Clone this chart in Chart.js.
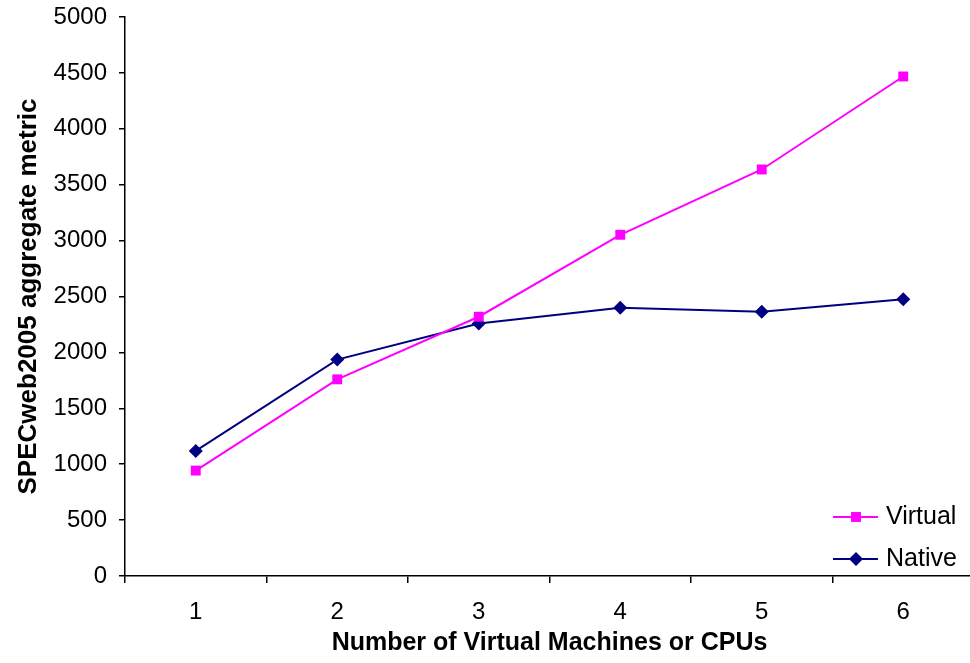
<!DOCTYPE html>
<html>
<head>
<meta charset="utf-8">
<script src="https://cdn.jsdelivr.net/npm/chart.js@4/dist/chart.umd.min.js"></script>
<style>
  html, body { margin: 0; padding: 0; background: #fff; overflow: hidden; }
  #wrap { width: 981px; height: 663px; position: relative; }
</style>
</head>
<body>
<div id="wrap"><canvas id="specChart"></canvas></div>
<script>
const categories = ['1', '2', '3', '4', '5', '6'];
const virtualValues = [943, 1759, 2319, 3052, 3636, 4468];
const nativeValues = [1119, 1936, 2259, 2400, 2364, 2475];

const fontFamily = '"Liberation Sans", Arial, sans-serif';

// legend drawn inside the plot, lower right, like the original
const insideLegend = {
    id: 'insideLegend',
    afterDraw(chart) {
        const ctx = chart.ctx;
        const area = chart.chartArea;
        ctx.save();
        chart.data.datasets.forEach(function (ds, i) {
            const y = area.bottom - 59 + i * 42;
            const x0 = area.right - 141;
            ctx.strokeStyle = ds.borderColor;
            ctx.lineWidth = 2;
            ctx.beginPath();
            ctx.moveTo(x0, y);
            ctx.lineTo(x0 + 45, y);
            ctx.stroke();
            ctx.fillStyle = ds.pointBackgroundColor;
            Chart.helpers.drawPoint(ctx, {
                pointStyle: ds.pointStyle,
                radius: ds.pointRadius,
                borderWidth: 0
            }, x0 + 23, y);
            ctx.fillStyle = '#000';
            ctx.font = '25px ' + fontFamily;
            ctx.textBaseline = 'middle';
            ctx.textAlign = 'left';
            ctx.fillText(ds.label, x0 + 53, y);
        });
        ctx.restore();
    }
};

document.addEventListener('DOMContentLoaded', function () {
    const ctx = document.getElementById('specChart').getContext('2d');
    const chart = new Chart(ctx, {
        type: 'line',
        data: {
            labels: categories,
            datasets: [{
                label: 'Virtual',
                data: virtualValues,
                borderColor: '#ff00ff',
                backgroundColor: '#ff00ff',
                pointBackgroundColor: '#ff00ff',
                pointBorderColor: '#ff00ff',
                pointStyle: 'rect',
                pointRadius: 7,
                pointBorderWidth: 0,
                borderWidth: 2,
                fill: false
            }, {
                label: 'Native',
                data: nativeValues,
                borderColor: '#000080',
                backgroundColor: '#000080',
                pointBackgroundColor: '#000080',
                pointBorderColor: '#000080',
                pointStyle: 'rectRot',
                pointRadius: 7,
                pointBorderWidth: 0,
                borderWidth: 2,
                fill: false
            }]
        },
        options: {
            responsive: true,
            maintainAspectRatio: false,
            animation: false,
            layout: { padding: { top: 17, right: 0, bottom: 0, left: 0 } },
            plugins: {
                legend: { display: false },
                tooltip: { enabled: false }
            },
            scales: {
                x: {
                    offset: true,
                    grid: {
                        offset: true,
                        drawOnChartArea: false,
                        drawTicks: true,
                        tickLength: 7,
                        color: '#000',
                        lineWidth: 1.5
                    },
                    border: { color: '#000', width: 1.5 },
                    ticks: {
                        color: '#000',
                        padding: 15,
                        font: { family: fontFamily, size: 24 }
                    },
                    title: {
                        display: true,
                        text: 'Number of Virtual Machines or CPUs',
                        color: '#000',
                        padding: { top: 0, bottom: 5 },
                        font: { family: fontFamily, size: 25, weight: 'bold' }
                    },
                    afterFit: function (scale) {
                        scale.height = 87;
                        scale.paddingLeft = 0;
                        scale.paddingRight = 0;
                    }
                },
                y: {
                    min: 0,
                    max: 5000,
                    ticks: {
                        stepSize: 500,
                        color: '#000',
                        padding: 12,
                        font: { family: fontFamily, size: 24 },
                        callback: function (value) { return String(value); }
                    },
                    grid: {
                        drawOnChartArea: false,
                        drawTicks: true,
                        tickLength: 6,
                        color: '#000',
                        lineWidth: 1.5
                    },
                    border: { color: '#000', width: 1.5 },
                    title: {
                        display: true,
                        text: 'SPECweb2005 aggregate metric',
                        color: '#000',
                        padding: { top: 13, bottom: 0 },
                        font: { family: fontFamily, size: 26, weight: 'bold' }
                    },
                    afterFit: function (scale) {
                        scale.width = 125;
                        scale.paddingTop = 0;
                        scale.paddingBottom = 0;
                    }
                }
            }
        },
        plugins: [insideLegend]
    });
});
</script>
</body>
</html>
